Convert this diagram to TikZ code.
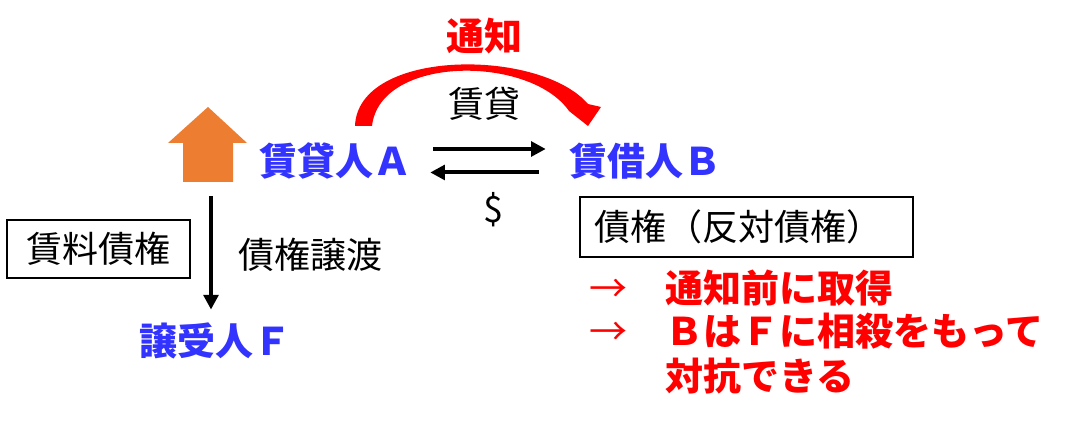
\documentclass[tikz,border=0pt]{standalone}
\usepackage{fontspec}
\setmainfont{Noto Sans CJK JP}
\usepackage{tikz}
\usetikzlibrary{arrows.meta, positioning, calc}
\definecolor{partyblue}{RGB}{51,51,255}
\definecolor{notered}{RGB}{255,0,0}
\definecolor{uporange}{RGB}{237,125,49}
\tikzset{
  txt/.style={inner sep=0pt, font=\fontsize{27pt}{33pt}\selectfont},
  party/.style={txt, text=partyblue, font=\fontsize{28.5pt}{33pt}\selectfont\bfseries},
  note/.style={txt, text=notered, font=\fontsize{28.5pt}{33pt}\selectfont\bfseries},
  claim/.style={txt, draw, line width=1.5pt},
  arr/.style={line width=3pt, -{Triangle[length=11pt,width=11pt]}}
}

\begin{document}
\begin{tikzpicture}[x=0.75pt, y=-0.75pt]
\useasboundingbox (0,0) rectangle (1068,427);

\node[party] (lessorA) at (335,161) {賃貸人Ａ};
\node[party] (lesseeB) at (645,161) {賃借人Ｂ};
\node[party] (assigneeF) at (215,341) {譲受人Ｆ};

\node[note] (notice) at (484,36) {通知};
\node[txt] (lease) at (484,104) {賃貸};
\node[txt] (dollar) at (493,210) {\$};
\node[txt] (assign) at (310,255) {債権譲渡};

\node[claim, minimum width=137.25pt, minimum height=43.5pt] (rent) at (98.5,249) {賃料債権};
\node[claim, inner xsep=10.5pt, text width=228.75pt, minimum height=45pt, align=left] (counter) at (746.5,227) {債権（反対債権）};

\node[note, anchor=base west] (noteA) at (589,303) {{\mdseries →}　通知前に取得};
\node[note, anchor=base west] (noteB) at (589,346) {{\mdseries →}　ＢはＦに相殺をもって};
\node[note, anchor=base west] (noteC) at ($(noteB.base west)+(76,45)$) {対抗できる};

\fill[notered] (355,126) .. controls (358,48) and (540,48) .. (588,104) -- (601,107) -- (588,126) -- (569,111) .. controls (530,55) and (380,55) .. (372,126) -- cycle;

\fill[uporange] (183,182) -- (183,143) -- (168,143) -- (208,107) -- (247,143) -- (233,143) -- (233,182) -- cycle;
\coordinate (upTail) at (211,182);

\draw[arr, shorten <=16.5pt, shorten >=17.25pt] ([yshift=9pt]lessorA.east) -- ([yshift=9pt]lesseeB.west);
\draw[arr, shorten <=22.5pt, shorten >=14.25pt] ([yshift=-8.6pt]lesseeB.west) -- ([yshift=-8.6pt]lessorA.east);
\draw[arr, shorten <=10.5pt, shorten >=9.75pt] (upTail) -- (upTail |- assigneeF.north);
\end{tikzpicture}
\end{document}
